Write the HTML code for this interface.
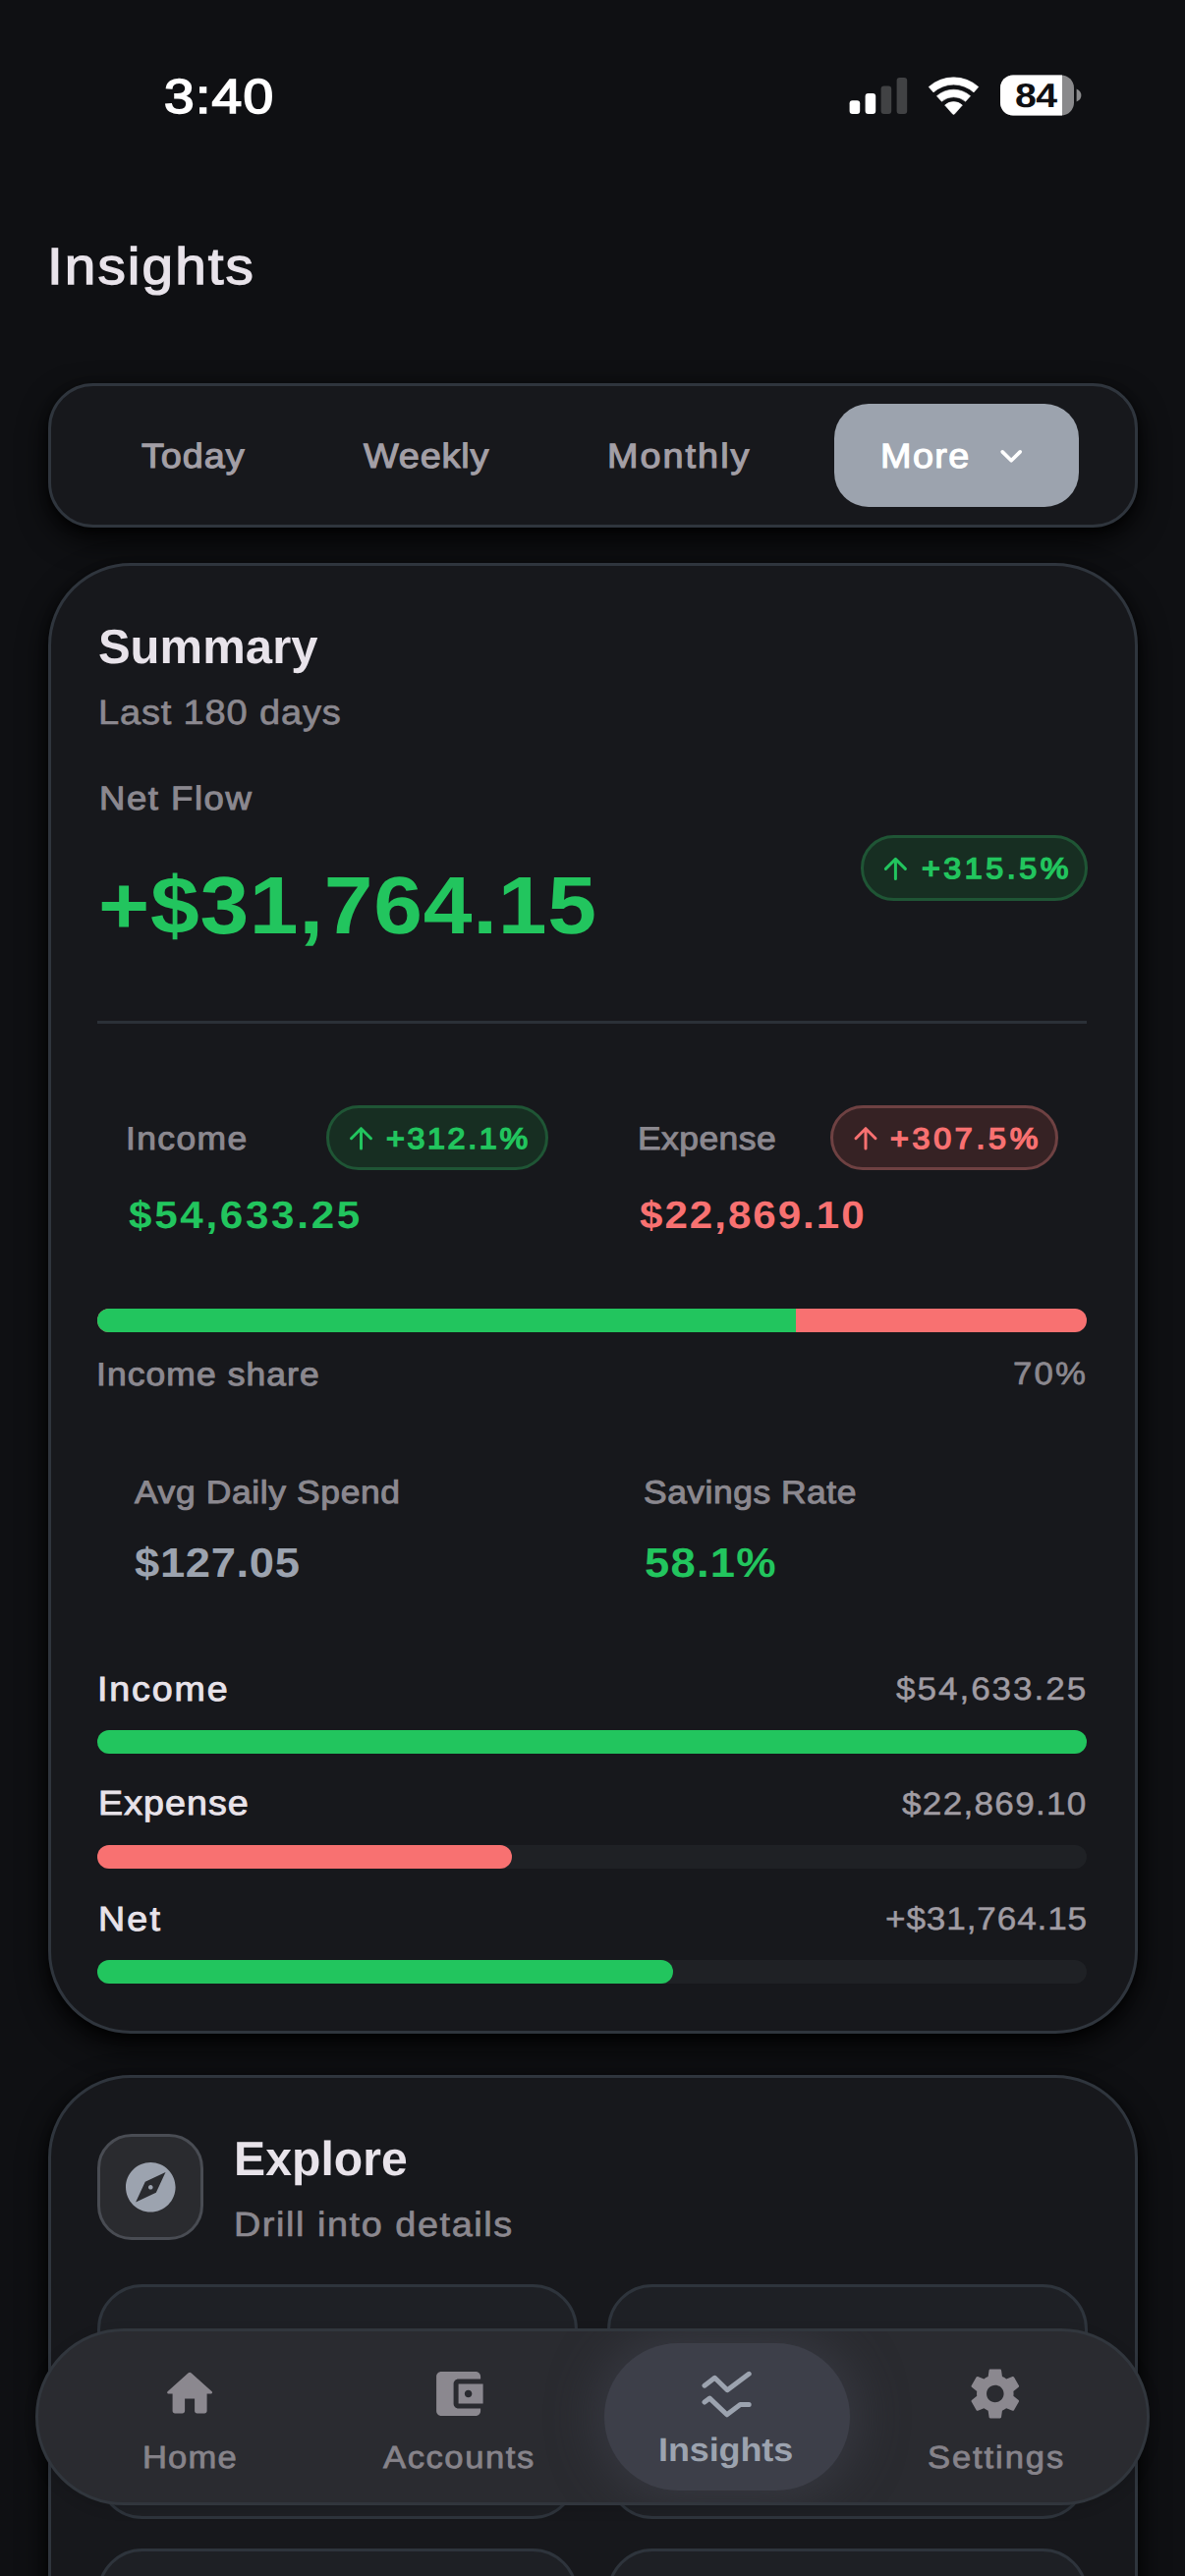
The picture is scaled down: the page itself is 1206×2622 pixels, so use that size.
<!DOCTYPE html>
<html lang="en">
<head>
<meta charset="utf-8">
<title>Insights</title>
<style>
html,body{margin:0;padding:0;background:#0f1013;}
body{width:1206px;height:2622px;position:relative;overflow:hidden;font-family:"Liberation Sans",sans-serif;text-rendering:geometricPrecision;}
.t{position:absolute;white-space:pre;line-height:1;margin:0;transform-origin:0 0;}
.abs{position:absolute;box-sizing:border-box;}
.card{position:absolute;box-sizing:border-box;left:49px;width:1109px;background:#17181c;border:3px solid #2f353d;border-radius:84px;box-shadow:0 12px 30px rgba(0,0,0,.88),0 3px 8px rgba(0,0,0,.55);}
.seg{position:absolute;box-sizing:border-box;left:49px;top:390px;width:1109px;height:146.5px;background:#17181c;border:3px solid #2f353d;border-radius:46px;box-shadow:0 12px 30px rgba(0,0,0,.88),0 3px 8px rgba(0,0,0,.55);}
.more{position:absolute;left:849px;top:411px;width:249px;height:104.7px;border-radius:35px;background:#9ca3ae;}
.badge{position:absolute;box-sizing:border-box;height:66.4px;border-radius:34px;border:3px solid;}
.badge.g{background:#172e22;border-color:#1f5535;}
.badge.r{background:#362224;border-color:#6e4142;}
.bar{position:absolute;height:24px;border-radius:12px;}
.track{background:#1f2125;}
.green{background:#22c55e;}
.red{background:#f87171;}
.tile{position:absolute;box-sizing:border-box;background:#1e2025;border:3px solid #2e343c;border-radius:46px;}
svg{position:absolute;overflow:visible;}
</style>
</head>
<body>
<!-- status bar icons -->
<svg style="left:860px;top:70px" width="250" height="56" viewBox="860 70 250 56">
  <rect x="864.6" y="102.2" width="10.6" height="13.8" rx="3" fill="#fff"/>
  <rect x="880.6" y="95" width="10.6" height="21" rx="3" fill="#fff"/>
  <rect x="896.6" y="87.4" width="10.6" height="28.6" rx="3" fill="#414244"/>
  <rect x="912.6" y="79" width="10.6" height="37" rx="3" fill="#414244"/>
  <!-- wifi -->
  <path fill="#fff" stroke="#fff" stroke-width="0.6" stroke-linejoin="round" d="M945.2 88.4 A38.2 38.2 0 0 1 995.8 88.4 L991.0 93.9 A30.9 30.9 0 0 0 950.0 93.9 Z M953.4 97.7 A25.8 25.8 0 0 1 987.6 97.7 L982.6 103.3 A18.3 18.3 0 0 0 958.4 103.3 Z M961.6 107.0 A13.4 13.4 0 0 1 979.4 107.0 L971.7 115.8 Q970.5 117.0 969.3 115.8 Z"/>
  <!-- battery -->
  <rect x="1018" y="76.5" width="75" height="41" rx="13" fill="#8a8a8c"/>
  <path d="M1031 76.5 H1081 V117.5 H1031 A13 13 0 0 1 1018 104.5 V89.5 A13 13 0 0 1 1031 76.5 Z" fill="#fff"/>
  <path d="M1095.6 90.5 Q1100.4 92.5 1100.4 97 Q1100.4 101.5 1095.6 103.5 Z" fill="#8a8a8c"/>
</svg>

<!-- segmented control -->
<div class="seg"></div>
<div class="more"></div>
<svg style="left:1016px;top:455px" width="28" height="20" viewBox="1016 455 28 20"><path d="M1020.2 459.9 L1029.2 468.8 L1038.2 459.9" fill="none" stroke="#fff" stroke-width="3.7" stroke-linecap="round" stroke-linejoin="round"/></svg>

<!-- summary card -->
<div class="card" style="top:572.5px;height:1497px"></div>
<div class="badge g" style="left:875.8px;top:850.2px;width:231.5px"></div>
<div class="abs" style="left:99.4px;top:1038.5px;width:1006.8px;height:3px;background:#2b3037"></div>
<div class="badge g" style="left:331.6px;top:1124.9px;width:226.4px"></div>
<div class="badge r" style="left:844.9px;top:1124.9px;width:232.4px"></div>
<!-- arrows -->
<svg style="left:0;top:0" width="1206" height="1300" viewBox="0 0 1206 1300" fill="none" stroke-width="3" stroke-linecap="round" stroke-linejoin="round">
  <path d="M911.4 894.6 V874.4 M901.4 884.4 L911.4 874.4 L921.4 884.4" stroke="#22c55e"/>
  <path d="M367.5 1168.9 V1148.700 M357.5 1158.700 L367.5 1148.700 L377.5 1158.700" stroke="#22c55e"/>
  <path d="M881 1168.9 V1148.700 M871 1158.700 L881 1148.700 L891 1158.700" stroke="#f87171"/>
</svg>
<!-- share bar -->
<div class="bar red" style="left:99.4px;top:1331.8px;width:1006.8px"></div>
<div class="bar green" style="left:99.4px;top:1331.8px;width:711px;border-radius:12px 0 0 12px"></div>
<!-- metric bars -->
<div class="bar green" style="left:99.4px;top:1761px;width:1006.8px"></div>
<div class="bar track" style="left:99.4px;top:1877.8px;width:1006.8px"></div>
<div class="bar red" style="left:99.4px;top:1877.8px;width:421.7px"></div>
<div class="bar track" style="left:99.4px;top:1994.8px;width:1006.8px"></div>
<div class="bar green" style="left:99.4px;top:1994.8px;width:585.4px"></div>

<!-- explore card -->
<div class="card" style="top:2111.5px;height:700px"></div>
<div class="abs" style="left:99.2px;top:2172px;width:107.6px;height:108px;border-radius:35px;background:#2a2b2f;border:3px solid #494c53"></div>
<svg style="left:127.7px;top:2200.6px" width="50.6" height="50.6" viewBox="0 0 24 24"><path fill="#9ca3af" d="M12 10.9c-.61 0-1.100.49-1.100 1.100s.49 1.100 1.100 1.100c.61 0 1.100-.49 1.100-1.100s-.49-1.100-1.100-1.100zM12 0C5.370 0 0 5.370 0 12s5.370 12 12 12 12-5.370 12-12S18.630 0 12 0zm2.630 14.630L4.800 19.200l4.570-9.830L19.200 4.800l-4.570 9.830z"/></svg>
<div class="tile" style="left:99px;top:2325px;width:488.6px;height:238.6px"></div>
<div class="tile" style="left:618.2px;top:2325px;width:488.6px;height:238.6px"></div>
<div class="tile" style="left:99px;top:2594px;width:488.6px;height:238.6px"></div>
<div class="tile" style="left:618.2px;top:2594px;width:488.6px;height:238.6px"></div>

<div class="t" style="left:166.6px;top:74.0px;font-size:49.2px;font-weight:400;color:#ffffff;letter-spacing:1.17px;-webkit-text-stroke:1.7px #ffffff;transform:scaleX(1.1200)">3:40</div>
<div class="t" style="left:1032.6px;top:81.3px;font-size:34.5px;font-weight:700;color:#0f1013;letter-spacing:-0.62px;transform:scaleX(1.1378)">84</div>
<div class="t" style="left:48.3px;top:245.8px;font-size:52.5px;font-weight:400;color:#e8e3ea;letter-spacing:1.92px;-webkit-text-stroke:1.3px #e8e3ea;transform:scaleX(1.0800)">Insights</div>
<div class="t" style="left:143.5px;top:447.3px;font-size:35.0px;font-weight:400;color:#a39fa6;letter-spacing:0.85px;-webkit-text-stroke:1.1px #a39fa6;transform:scaleX(1.0800)">Today</div>
<div class="t" style="left:370.0px;top:447.3px;font-size:35.0px;font-weight:400;color:#a39fa6;letter-spacing:0.78px;-webkit-text-stroke:1.1px #a39fa6;transform:scaleX(1.0800)">Weekly</div>
<div class="t" style="left:617.8px;top:447.3px;font-size:35.0px;font-weight:400;color:#a39fa6;letter-spacing:1.87px;-webkit-text-stroke:1.1px #a39fa6;transform:scaleX(1.0800)">Monthly</div>
<div class="t" style="left:895.6px;top:447.3px;font-size:35.0px;font-weight:400;color:#ffffff;letter-spacing:1.31px;-webkit-text-stroke:1.1px #ffffff;transform:scaleX(1.0800)">More</div>
<div class="t" style="left:99.9px;top:634.7px;font-size:49.0px;font-weight:700;color:#e8e3ea;letter-spacing:0.05px">Summary</div>
<div class="t" style="left:100.3px;top:708.3px;font-size:35.2px;font-weight:400;color:#8b888f;letter-spacing:0.78px;-webkit-text-stroke:0.7px #8b888f;transform:scaleX(1.0800)">Last 180 days</div>
<div class="t" style="left:101.3px;top:796.5px;font-size:33.8px;font-weight:400;color:#8b888f;letter-spacing:1.43px;-webkit-text-stroke:1.0px #8b888f;transform:scaleX(1.0800)">Net Flow</div>
<div class="t" style="left:99.7px;top:880.7px;font-size:82.8px;font-weight:700;color:#22c55e;letter-spacing:0.66px;transform:scaleX(1.0800)">+$31,764.15</div>
<div class="t" style="left:937.5px;top:870.4px;font-size:29.8px;font-weight:400;color:#22c55e;letter-spacing:3.31px;-webkit-text-stroke:1.5px #22c55e;transform:scaleX(1.0800)">+315.5%</div>
<div class="t" style="left:128.3px;top:1143.0px;font-size:32.8px;font-weight:400;color:#8b888f;letter-spacing:1.30px;-webkit-text-stroke:1.0px #8b888f;transform:scaleX(1.0800)">Income</div>
<div class="t" style="left:393.2px;top:1144.6px;font-size:29.8px;font-weight:400;color:#22c55e;letter-spacing:2.48px;-webkit-text-stroke:1.5px #22c55e;transform:scaleX(1.0800)">+312.1%</div>
<div class="t" style="left:131.3px;top:1218.1px;font-size:39.0px;font-weight:700;color:#22c55e;letter-spacing:2.51px;transform:scaleX(1.0800)">$54,633.25</div>
<div class="t" style="left:648.8px;top:1143.0px;font-size:32.8px;font-weight:400;color:#8b888f;letter-spacing:0.43px;-webkit-text-stroke:1.0px #8b888f;transform:scaleX(1.0800)">Expense</div>
<div class="t" style="left:906.1px;top:1144.6px;font-size:29.8px;font-weight:400;color:#f87171;letter-spacing:3.46px;-webkit-text-stroke:1.5px #f87171;transform:scaleX(1.0800)">+307.5%</div>
<div class="t" style="left:650.9px;top:1218.1px;font-size:39.0px;font-weight:700;color:#f87171;letter-spacing:1.83px;transform:scaleX(1.0800)">$22,869.10</div>
<div class="t" style="left:98.2px;top:1382.6px;font-size:32.8px;font-weight:400;color:#8b888f;letter-spacing:1.02px;-webkit-text-stroke:1.0px #8b888f;transform:scaleX(1.0800)">Income share</div>
<div class="t" style="left:1030.9px;top:1382.4px;font-size:32.2px;font-weight:400;color:#8b888f;letter-spacing:2.02px;-webkit-text-stroke:0.7px #8b888f;transform:scaleX(1.0800)">70%</div>
<div class="t" style="left:137.4px;top:1502.8px;font-size:32.8px;font-weight:400;color:#8b888f;letter-spacing:0.58px;-webkit-text-stroke:1.0px #8b888f;transform:scaleX(1.0800)">Avg Daily Spend</div>
<div class="t" style="left:137.3px;top:1569.8px;font-size:42.0px;font-weight:700;color:#9ca3af;letter-spacing:0.62px;transform:scaleX(1.0800)">$127.05</div>
<div class="t" style="left:655.3px;top:1502.8px;font-size:32.8px;font-weight:400;color:#8b888f;letter-spacing:0.48px;-webkit-text-stroke:1.0px #8b888f;transform:scaleX(1.0800)">Savings Rate</div>
<div class="t" style="left:655.8px;top:1569.8px;font-size:42.0px;font-weight:700;color:#22c55e;letter-spacing:1.17px;transform:scaleX(1.0800)">58.1%</div>
<div class="t" style="left:99.3px;top:1702.5px;font-size:34.8px;font-weight:400;color:#e8e3ea;letter-spacing:1.74px;-webkit-text-stroke:0.9px #e8e3ea;transform:scaleX(1.0800)">Income</div>
<div class="t" style="left:912.3px;top:1702.6px;font-size:32.5px;font-weight:400;color:#a09ca3;letter-spacing:1.81px;-webkit-text-stroke:0.5px #a09ca3;transform:scaleX(1.0800)">$54,633.25</div>
<div class="t" style="left:99.5px;top:1819.4px;font-size:34.8px;font-weight:400;color:#e8e3ea;letter-spacing:0.99px;-webkit-text-stroke:0.9px #e8e3ea;transform:scaleX(1.0800)">Expense</div>
<div class="t" style="left:918.3px;top:1819.6px;font-size:32.5px;font-weight:400;color:#a09ca3;letter-spacing:1.20px;-webkit-text-stroke:0.5px #a09ca3;transform:scaleX(1.0800)">$22,869.10</div>
<div class="t" style="left:99.5px;top:1936.6px;font-size:34.8px;font-weight:400;color:#e8e3ea;letter-spacing:2.06px;-webkit-text-stroke:0.9px #e8e3ea;transform:scaleX(1.0800)">Net</div>
<div class="t" style="left:901.1px;top:1936.7px;font-size:32.5px;font-weight:400;color:#a09ca3;letter-spacing:0.83px;-webkit-text-stroke:0.5px #a09ca3;transform:scaleX(1.0800)">+$31,764.15</div>
<div class="t" style="left:237.9px;top:2174.2px;font-size:49.0px;font-weight:700;color:#e8e3ea;letter-spacing:0.07px;transform:scaleX(0.9817)">Explore</div>
<div class="t" style="left:237.9px;top:2246.9px;font-size:35.0px;font-weight:400;color:#8b888f;letter-spacing:1.46px;-webkit-text-stroke:0.7px #8b888f;transform:scaleX(1.0800)">Drill into details</div>

<!-- tab bar -->
<div class="abs" style="z-index:20;left:36px;top:2370px;width:1133.6px;height:180px;border-radius:90px;background:#2a2b30;border:3px solid #31363d;box-shadow:0 4px 14px rgba(0,0,0,.12);overflow:hidden">
  <div class="abs" style="left:576px;top:12px;width:249.5px;height:149.5px;border-radius:75px;background:#3d3f49;box-shadow:0 0 44px 12px rgba(61,63,73,.6)"></div>
</div>
<svg style="z-index:25;left:0;top:2400px" width="1206" height="80" viewBox="0 2400 1206 80">
  <!-- home -->
  <g transform="translate(163.100 2406.500) scale(2.500)"><path fill="#8b888f" d="M10 19v-5h4v5c0 .55.45 1 1 1h3c.55 0 1-.45 1-1v-7h1.700c.46 0 .68-.57.33-.87L12.670 3.600c-.38-.34-.96-.34-1.340 0l-8.360 7.530c-.34.300-.13.870.33.870H5v7c0 .55.45 1 1 1h3c.55 0 1-.45 1-1z"/></g>
  <!-- wallet -->
  <g transform="translate(436.6 2406.6) scale(2.5)"><path fill="#8b888f" d="M21 18v1c0 1.100-.900 2-2 2H5c-1.110 0-2-.900-2-2V5c0-1.100.890-2 2-2h14c1.100 0 2 .900 2 2v1h-9c-1.110 0-2 .900-2 2v8c0 1.100.890 2 2 2h9zm-9-2h10V8H12v8zm4-2.500c-.830 0-1.500-.670-1.500-1.500s.670-1.500 1.500-1.500 1.500.670 1.500 1.500-.670 1.500-1.500 1.500z"/></g>
  <!-- insights -->
  <g fill="none" stroke="#9ca3af" stroke-width="5" stroke-linecap="round" stroke-linejoin="round">
    <path d="M717 2428.200 L727.400 2420.300 L740.200 2432.700 L762.200 2416.300"/>
    <path d="M717 2445.100 L722.300 2441.100 L739.800 2457.800 L753.400 2447.500 L762.200 2447.500"/>
  </g>
  <!-- gear -->
  <g transform="translate(982.8 2406.4) scale(2.5)"><path fill="#8b888f" d="M19.430 12.980c.040-.320.070-.640.070-.980s-.030-.660-.070-.980l2.110-1.650c.190-.150.240-.420.120-.640l-2-3.460c-.120-.220-.390-.300-.610-.220l-2.490 1c-.520-.400-1.080-.730-1.690-.980l-.380-2.650C14.460 2.180 14.250 2 14 2h-4c-.250 0-.460.180-.490.420l-.380 2.650c-.610.250-1.170.590-1.690.980l-2.490-1c-.230-.090-.490 0-.610.220l-2 3.460c-.130.220-.070.490.120.640l2.110 1.650c-.040.320-.070.650-.070.980s.030.660.070.980l-2.110 1.650c-.190.150-.240.420-.120.640l2 3.460c.120.220.390.300.610.220l2.490-1c.520.400 1.080.730 1.690.980l.380 2.650c.030.240.240.420.490.420h4c.250 0 .460-.180.490-.420l.380-2.650c.610-.250 1.170-.590 1.690-.980l2.490 1c.230.090.490 0 .610-.220l2-3.460c.120-.220.070-.490-.120-.640l-2.110-1.650zM12 15.500c-1.930 0-3.500-1.570-3.500-3.500s1.570-3.500 3.500-3.500 3.500 1.570 3.500 3.500-1.570 3.500-3.500 3.500z"/></g>
</svg>
<div class="t" style="left:145.0px;top:2484.7px;font-size:32.0px;font-weight:400;color:#86838a;letter-spacing:1.06px;-webkit-text-stroke:0.8px #86838a;transform:scaleX(1.0800);z-index:30">Home</div>
<div class="t" style="left:390.2px;top:2484.7px;font-size:32.0px;font-weight:400;color:#86838a;letter-spacing:1.47px;-webkit-text-stroke:0.8px #86838a;transform:scaleX(1.0800);z-index:30">Accounts</div>
<div class="t" style="left:670.2px;top:2477.6px;font-size:33.8px;font-weight:700;color:#9ca3af;letter-spacing:-0.09px;transform:scaleX(1.0643);z-index:30">Insights</div>
<div class="t" style="left:943.6px;top:2484.7px;font-size:32.0px;font-weight:400;color:#86838a;letter-spacing:1.76px;-webkit-text-stroke:0.8px #86838a;transform:scaleX(1.0800);z-index:30">Settings</div>
</body>
</html>
